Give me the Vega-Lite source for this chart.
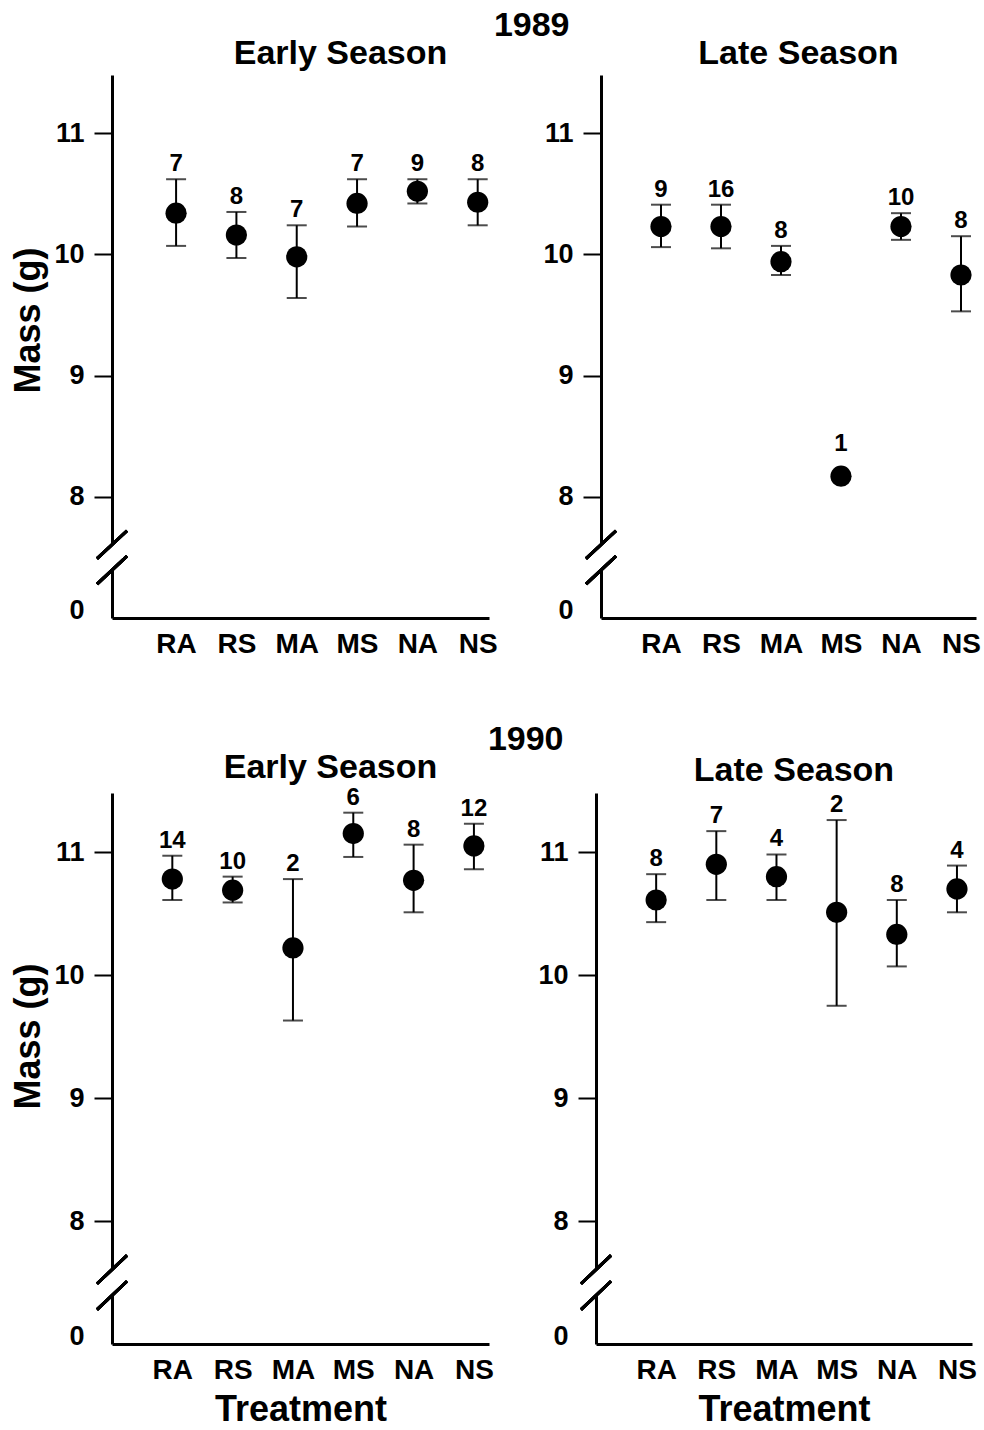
{
  "$schema": "https://vega.github.io/schema/vega-lite/v6.json",
  "background": "white",
  "padding": {"left": 10, "top": 9, "right": 0, "bottom": 0},
  "datasets": {
    "e89": [
      {"treatment": "RA", "mean": 10.34, "lo": 10.07, "hi": 10.62, "n": 7},
      {"treatment": "RS", "mean": 10.16, "lo": 9.97, "hi": 10.35, "n": 8},
      {"treatment": "MA", "mean": 9.98, "lo": 9.64, "hi": 10.24, "n": 7},
      {"treatment": "MS", "mean": 10.42, "lo": 10.23, "hi": 10.62, "n": 7},
      {"treatment": "NA", "mean": 10.52, "lo": 10.42, "hi": 10.62, "n": 9},
      {"treatment": "NS", "mean": 10.43, "lo": 10.24, "hi": 10.62, "n": 8}
    ],
    "l89": [
      {"treatment": "RA", "mean": 10.23, "lo": 10.06, "hi": 10.41, "n": 9},
      {"treatment": "RS", "mean": 10.23, "lo": 10.05, "hi": 10.41, "n": 16},
      {"treatment": "MA", "mean": 9.94, "lo": 9.83, "hi": 10.07, "n": 8},
      {"treatment": "MS", "mean": 8.17, "lo": null, "hi": null, "n": 1},
      {"treatment": "NA", "mean": 10.23, "lo": 10.12, "hi": 10.34, "n": 10},
      {"treatment": "NS", "mean": 9.83, "lo": 9.53, "hi": 10.15, "n": 8}
    ],
    "e90": [
      {"treatment": "RA", "mean": 10.78, "lo": 10.61, "hi": 10.97, "n": 14},
      {"treatment": "RS", "mean": 10.69, "lo": 10.59, "hi": 10.8, "n": 10},
      {"treatment": "MA", "mean": 10.22, "lo": 9.63, "hi": 10.78, "n": 2},
      {"treatment": "MS", "mean": 11.15, "lo": 10.96, "hi": 11.32, "n": 6},
      {"treatment": "NA", "mean": 10.77, "lo": 10.51, "hi": 11.06, "n": 8},
      {"treatment": "NS", "mean": 11.05, "lo": 10.86, "hi": 11.23, "n": 12}
    ],
    "l90": [
      {"treatment": "RA", "mean": 10.61, "lo": 10.43, "hi": 10.82, "n": 8},
      {"treatment": "RS", "mean": 10.9, "lo": 10.61, "hi": 11.17, "n": 7},
      {"treatment": "MA", "mean": 10.8, "lo": 10.61, "hi": 10.98, "n": 4},
      {"treatment": "MS", "mean": 10.51, "lo": 9.75, "hi": 11.26, "n": 2},
      {"treatment": "NA", "mean": 10.33, "lo": 10.07, "hi": 10.61, "n": 8},
      {"treatment": "NS", "mean": 10.7, "lo": 10.51, "hi": 10.89, "n": 4}
    ]
  },
  "spacing": 64,
  "vconcat": [
    {
      "title": {"text": "1989", "anchor": "middle", "dx": 36, "offset": -6},
      "spacing": 44,
      "hconcat": [
        {
          "width": 377, "height": 543,
          "title": {"text": "Early Season", "dx": 40, "offset": 4},
          "data": {"name": "e89"},
          "encoding": {
            "x": {"field": "treatment", "type": "nominal", "scale": {"type": "point", "domain": ["RA", "RS", "MA", "MS", "NA", "NS"], "padding": 0.625, "align": 0.85}, "axis": {"title": null}},
            "y": {"field": "mean", "type": "quantitative", "scale": {"domain": [7.0, 11.48], "nice": false, "zero": false}, "axis": {"title": "Mass (g)", "titleY": 245, "values": [7.06, 8, 9, 10, 11], "format": "d", "labelExpr": "datum.value < 7.5 ? '0' : datum.label", "tickOpacity": {"condition": {"test": "datum.value < 7.5", "value": 0}, "value": 1}}}
          },
          "layer": [
            {"mark": {"type": "rule", "color": "white", "strokeWidth": 9}, "encoding": {"x": {"value": 0}, "y": {"datum": 7.4, "type": "quantitative"}, "y2": {"datum": 7.6}}},
            {"mark": {"type": "rule", "color": "black", "strokeWidth": 3}, "encoding": {"x": {"value": -15}, "x2": {"value": 15}, "y": {"datum": 7.49, "type": "quantitative"}, "y2": {"datum": 7.72}}},
            {"mark": {"type": "rule", "color": "black", "strokeWidth": 3}, "encoding": {"x": {"value": -15}, "x2": {"value": 15}, "y": {"datum": 7.28, "type": "quantitative"}, "y2": {"datum": 7.51}}},
            {"mark": {"type": "rule", "color": "black", "strokeWidth": 2}, "encoding": {"y": {"field": "lo", "type": "quantitative"}, "y2": {"field": "hi"}}},
            {"mark": {"type": "tick", "color": "black", "thickness": 2, "size": 20}, "encoding": {"y": {"field": "lo", "type": "quantitative"}}},
            {"mark": {"type": "tick", "color": "black", "thickness": 2, "size": 20}, "encoding": {"y": {"field": "hi", "type": "quantitative"}}},
            {"mark": {"type": "point", "shape": "circle", "filled": true, "color": "black", "opacity": 1, "size": 450}},
            {"transform": [{"filter": "datum.hi != null"}], "mark": {"type": "text", "baseline": "bottom", "dy": -3, "fontSize": 24, "fontWeight": "bold", "color": "black"}, "encoding": {"y": {"field": "hi", "type": "quantitative"}, "text": {"field": "n", "type": "nominal"}}},
            {"transform": [{"filter": "datum.hi == null"}], "mark": {"type": "text", "baseline": "bottom", "dy": -20, "fontSize": 24, "fontWeight": "bold", "color": "black"}, "encoding": {"text": {"field": "n", "type": "nominal"}}}
          ]
        },
        {
          "width": 375, "height": 543,
          "title": {"text": "Late Season", "dx": 10, "offset": 4},
          "data": {"name": "l89"},
          "encoding": {
            "x": {"field": "treatment", "type": "nominal", "scale": {"type": "point", "domain": ["RA", "RS", "MA", "MS", "NA", "NS"], "padding": 0.625, "align": 0.8}, "axis": {"title": null}},
            "y": {"field": "mean", "type": "quantitative", "scale": {"domain": [7.0, 11.48], "nice": false, "zero": false}, "axis": {"title": null, "values": [7.06, 8, 9, 10, 11], "format": "d", "labelExpr": "datum.value < 7.5 ? '0' : datum.label", "tickOpacity": {"condition": {"test": "datum.value < 7.5", "value": 0}, "value": 1}}}
          },
          "layer": [
            {"mark": {"type": "rule", "color": "white", "strokeWidth": 9}, "encoding": {"x": {"value": 0}, "y": {"datum": 7.4, "type": "quantitative"}, "y2": {"datum": 7.6}}},
            {"mark": {"type": "rule", "color": "black", "strokeWidth": 3}, "encoding": {"x": {"value": -15}, "x2": {"value": 15}, "y": {"datum": 7.49, "type": "quantitative"}, "y2": {"datum": 7.72}}},
            {"mark": {"type": "rule", "color": "black", "strokeWidth": 3}, "encoding": {"x": {"value": -15}, "x2": {"value": 15}, "y": {"datum": 7.28, "type": "quantitative"}, "y2": {"datum": 7.51}}},
            {"mark": {"type": "rule", "color": "black", "strokeWidth": 2}, "encoding": {"y": {"field": "lo", "type": "quantitative"}, "y2": {"field": "hi"}}},
            {"mark": {"type": "tick", "color": "black", "thickness": 2, "size": 20}, "encoding": {"y": {"field": "lo", "type": "quantitative"}}},
            {"mark": {"type": "tick", "color": "black", "thickness": 2, "size": 20}, "encoding": {"y": {"field": "hi", "type": "quantitative"}}},
            {"mark": {"type": "point", "shape": "circle", "filled": true, "color": "black", "opacity": 1, "size": 450}},
            {"transform": [{"filter": "datum.hi != null"}], "mark": {"type": "text", "baseline": "bottom", "dy": -3, "fontSize": 24, "fontWeight": "bold", "color": "black"}, "encoding": {"y": {"field": "hi", "type": "quantitative"}, "text": {"field": "n", "type": "nominal"}}},
            {"transform": [{"filter": "datum.hi == null"}], "mark": {"type": "text", "baseline": "bottom", "dy": -20, "fontSize": 24, "fontWeight": "bold", "color": "black"}, "encoding": {"text": {"field": "n", "type": "nominal"}}}
          ]
        }
      ]
    },
    {
      "title": {"text": "1990", "anchor": "middle", "dx": 32, "offset": -6},
      "spacing": 43,
      "hconcat": [
        {
          "width": 377, "height": 551,
          "title": {"text": "Early Season", "dx": 30, "offset": 1},
          "data": {"name": "e90"},
          "encoding": {
            "x": {"field": "treatment", "type": "nominal", "scale": {"type": "point", "domain": ["RA", "RS", "MA", "MS", "NA", "NS"], "padding": 0.625, "align": 0.8}, "axis": {"title": "Treatment"}},
            "y": {"field": "mean", "type": "quantitative", "scale": {"domain": [7.0, 11.48], "nice": false, "zero": false}, "axis": {"title": "Mass (g)", "titleY": 243, "values": [7.06, 8, 9, 10, 11], "format": "d", "labelExpr": "datum.value < 7.5 ? '0' : datum.label", "tickOpacity": {"condition": {"test": "datum.value < 7.5", "value": 0}, "value": 1}}}
          },
          "layer": [
            {"mark": {"type": "rule", "color": "white", "strokeWidth": 9}, "encoding": {"x": {"value": 0}, "y": {"datum": 7.4, "type": "quantitative"}, "y2": {"datum": 7.6}}},
            {"mark": {"type": "rule", "color": "black", "strokeWidth": 3}, "encoding": {"x": {"value": -15}, "x2": {"value": 15}, "y": {"datum": 7.49, "type": "quantitative"}, "y2": {"datum": 7.72}}},
            {"mark": {"type": "rule", "color": "black", "strokeWidth": 3}, "encoding": {"x": {"value": -15}, "x2": {"value": 15}, "y": {"datum": 7.28, "type": "quantitative"}, "y2": {"datum": 7.51}}},
            {"mark": {"type": "rule", "color": "black", "strokeWidth": 2}, "encoding": {"y": {"field": "lo", "type": "quantitative"}, "y2": {"field": "hi"}}},
            {"mark": {"type": "tick", "color": "black", "thickness": 2, "size": 20}, "encoding": {"y": {"field": "lo", "type": "quantitative"}}},
            {"mark": {"type": "tick", "color": "black", "thickness": 2, "size": 20}, "encoding": {"y": {"field": "hi", "type": "quantitative"}}},
            {"mark": {"type": "point", "shape": "circle", "filled": true, "color": "black", "opacity": 1, "size": 450}},
            {"transform": [{"filter": "datum.hi != null"}], "mark": {"type": "text", "baseline": "bottom", "dy": -3, "fontSize": 24, "fontWeight": "bold", "color": "black"}, "encoding": {"y": {"field": "hi", "type": "quantitative"}, "text": {"field": "n", "type": "nominal"}}},
            {"transform": [{"filter": "datum.hi == null"}], "mark": {"type": "text", "baseline": "bottom", "dy": -20, "fontSize": 24, "fontWeight": "bold", "color": "black"}, "encoding": {"text": {"field": "n", "type": "nominal"}}}
          ]
        },
        {
          "width": 376, "height": 551,
          "title": {"text": "Late Season", "dx": 10, "offset": 5},
          "data": {"name": "l90"},
          "encoding": {
            "x": {"field": "treatment", "type": "nominal", "scale": {"type": "point", "domain": ["RA", "RS", "MA", "MS", "NA", "NS"], "padding": 0.625, "align": 0.8}, "axis": {"title": "Treatment"}},
            "y": {"field": "mean", "type": "quantitative", "scale": {"domain": [7.0, 11.48], "nice": false, "zero": false}, "axis": {"title": null, "values": [7.06, 8, 9, 10, 11], "format": "d", "labelExpr": "datum.value < 7.5 ? '0' : datum.label", "tickOpacity": {"condition": {"test": "datum.value < 7.5", "value": 0}, "value": 1}}}
          },
          "layer": [
            {"mark": {"type": "rule", "color": "white", "strokeWidth": 9}, "encoding": {"x": {"value": 0}, "y": {"datum": 7.4, "type": "quantitative"}, "y2": {"datum": 7.6}}},
            {"mark": {"type": "rule", "color": "black", "strokeWidth": 3}, "encoding": {"x": {"value": -15}, "x2": {"value": 15}, "y": {"datum": 7.49, "type": "quantitative"}, "y2": {"datum": 7.72}}},
            {"mark": {"type": "rule", "color": "black", "strokeWidth": 3}, "encoding": {"x": {"value": -15}, "x2": {"value": 15}, "y": {"datum": 7.28, "type": "quantitative"}, "y2": {"datum": 7.51}}},
            {"mark": {"type": "rule", "color": "black", "strokeWidth": 2}, "encoding": {"y": {"field": "lo", "type": "quantitative"}, "y2": {"field": "hi"}}},
            {"mark": {"type": "tick", "color": "black", "thickness": 2, "size": 20}, "encoding": {"y": {"field": "lo", "type": "quantitative"}}},
            {"mark": {"type": "tick", "color": "black", "thickness": 2, "size": 20}, "encoding": {"y": {"field": "hi", "type": "quantitative"}}},
            {"mark": {"type": "point", "shape": "circle", "filled": true, "color": "black", "opacity": 1, "size": 450}},
            {"transform": [{"filter": "datum.hi != null"}], "mark": {"type": "text", "baseline": "bottom", "dy": -3, "fontSize": 24, "fontWeight": "bold", "color": "black"}, "encoding": {"y": {"field": "hi", "type": "quantitative"}, "text": {"field": "n", "type": "nominal"}}},
            {"transform": [{"filter": "datum.hi == null"}], "mark": {"type": "text", "baseline": "bottom", "dy": -20, "fontSize": 24, "fontWeight": "bold", "color": "black"}, "encoding": {"text": {"field": "n", "type": "nominal"}}}
          ]
        }
      ]
    }
  ],
  "config": {
    "font": "Liberation Sans",
    "view": {"stroke": null},
    "title": {"fontSize": 34, "fontWeight": "bold", "color": "black", "font": "Liberation Sans"},
    "axis": {
      "grid": false,
      "domainColor": "black",
      "domainWidth": 3,
      "tickColor": "black",
      "tickWidth": 2,
      "tickSize": 18,
      "labelFont": "Liberation Sans",
      "labelFontWeight": "bold",
      "labelFontSize": 27,
      "labelColor": "black",
      "labelPadding": 10,
      "titleFont": "Liberation Sans",
      "titleFontWeight": "bold",
      "titleFontSize": 36,
      "titleColor": "black"
    },
    "axisX": {"ticks": false, "labelAngle": 0, "labelPadding": 12, "labelFontSize": 28, "titlePadding": 8},
    "axisY": {"titlePadding": 6}
  }
}
